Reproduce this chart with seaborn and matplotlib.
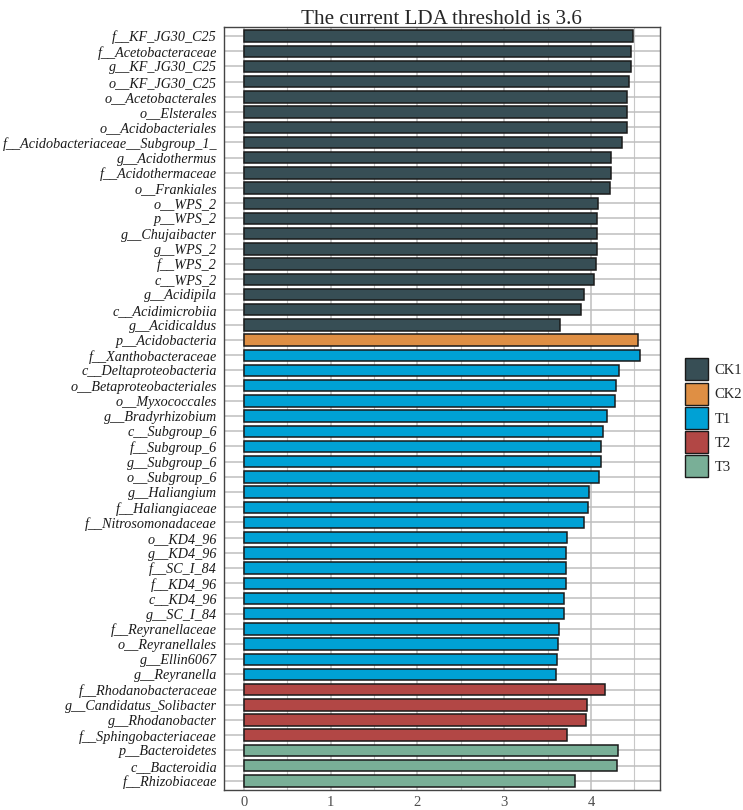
import pandas as pd
import seaborn as sns
import matplotlib.pyplot as plt
from matplotlib.patches import Patch

sns.set_theme(style="white")
plt.rcParams['font.family'] = ['Liberation Serif', 'DejaVu Serif']

taxa = [
    "f__KF_JG30_C25", "f__Acetobacteraceae", "g__KF_JG30_C25", "o__KF_JG30_C25",
    "o__Acetobacterales", "o__Elsterales", "o__Acidobacteriales",
    "f__Acidobacteriaceae__Subgroup_1_", "g__Acidothermus", "f__Acidothermaceae",
    "o__Frankiales", "o__WPS_2", "p__WPS_2", "g__Chujaibacter", "g__WPS_2",
    "f__WPS_2", "c__WPS_2", "g__Acidipila", "c__Acidimicrobiia", "g__Acidicaldus",
    "p__Acidobacteria",
    "f__Xanthobacteraceae", "c__Deltaproteobacteria", "o__Betaproteobacteriales",
    "o__Myxococcales", "g__Bradyrhizobium", "c__Subgroup_6", "f__Subgroup_6",
    "g__Subgroup_6", "o__Subgroup_6", "g__Haliangium", "f__Haliangiaceae",
    "f__Nitrosomonadaceae", "o__KD4_96", "g__KD4_96", "f__SC_I_84", "f__KD4_96",
    "c__KD4_96", "g__SC_I_84", "f__Reyranellaceae", "o__Reyranellales",
    "g__Ellin6067", "g__Reyranella",
    "f__Rhodanobacteraceae", "g__Candidatus_Solibacter", "g__Rhodanobacter",
    "f__Sphingobacteriaceae",
    "p__Bacteroidetes", "c__Bacteroidia", "f__Rhizobiaceae",
]
lda = [
    4.48, 4.465, 4.457, 4.44, 4.42, 4.42, 4.41, 4.36, 4.23, 4.23,
    4.216, 4.08, 4.07, 4.066, 4.064, 4.06, 4.036, 3.917, 3.886, 3.646,
    4.54,
    4.565, 4.32, 4.29, 4.28, 4.185, 4.135, 4.116, 4.11, 4.093, 3.98,
    3.963, 3.925, 3.726, 3.714, 3.71, 3.71, 3.688, 3.688, 3.634, 3.62,
    3.607, 3.6,
    4.162, 3.952, 3.948, 3.726,
    4.315, 4.304, 3.817,
]
groups = ["CK1"] * 20 + ["CK2"] + ["T1"] * 22 + ["T2"] * 4 + ["T3"] * 3
group_names = ["CK1", "CK2", "T1", "T2", "T3"]
group_colors = ["#374E55", "#DF8F44", "#00A1D5", "#B24745", "#79AF97"]
palette = dict(zip(group_names, group_colors))

df = pd.DataFrame({"taxa": taxa, "lda": lda, "group": groups})

fig = plt.figure(figsize=(7.43, 8.10), dpi=100)
ax = fig.add_axes([0.3015, 0.0247, 0.5865, 0.942])

# grid behind bars
ax.set_axisbelow(True)
for v in [0.5, 1.5, 2.5, 3.5, 4.5]:
    ax.axvline(v, color="#C8C8C8", lw=0.8, zorder=0)
for v in range(5):
    ax.axvline(v, color="#BEBEBE", lw=1.1, zorder=0)
for i in range(len(taxa)):
    ax.axhline(i, color="#BEBEBE", lw=1.1, zorder=0)

sns.barplot(data=df, x="lda", y="taxa", hue="group", palette=palette,
            dodge=False, width=0.76, edgecolor="#1a1a1a", linewidth=1.1,
            saturation=1, order=taxa, hue_order=group_names, legend=False, ax=ax)

ax.set_xlim(-0.228, 4.793)
ax.set_ylim(len(taxa) - 0.4, -0.6)
ax.set_xticks([0, 1, 2, 3, 4])
ax.set_xlabel("")
ax.set_ylabel("")
ax.tick_params(axis="y", labelsize=10.2, length=3, width=0.8, color="#333333",
               labelcolor="#1a1a1a", pad=2)
ax.tick_params(axis="x", labelsize=10.5, length=3, width=0.8, color="#333333",
               labelcolor="#4D4D4D", pad=1.5)
for lab in ax.get_yticklabels():
    lab.set_fontstyle("italic")
for s in ax.spines.values():
    s.set_color("#444444")
    s.set_linewidth(1.0)

ax.set_title("The current LDA threshold is 3.6", fontsize=15.2, pad=2)

handles = [Patch(facecolor=c, edgecolor="#1a1a1a", linewidth=1.0) for c in group_colors]
fig.legend(handles, group_names, loc="center left", bbox_to_anchor=(0.912, 0.484),
           frameon=False, fontsize=10.5, handlelength=1.55, handleheight=1.95,
           labelspacing=0.15, handletextpad=0.5, borderpad=0)

fig.savefig("out.png", dpi=100)
